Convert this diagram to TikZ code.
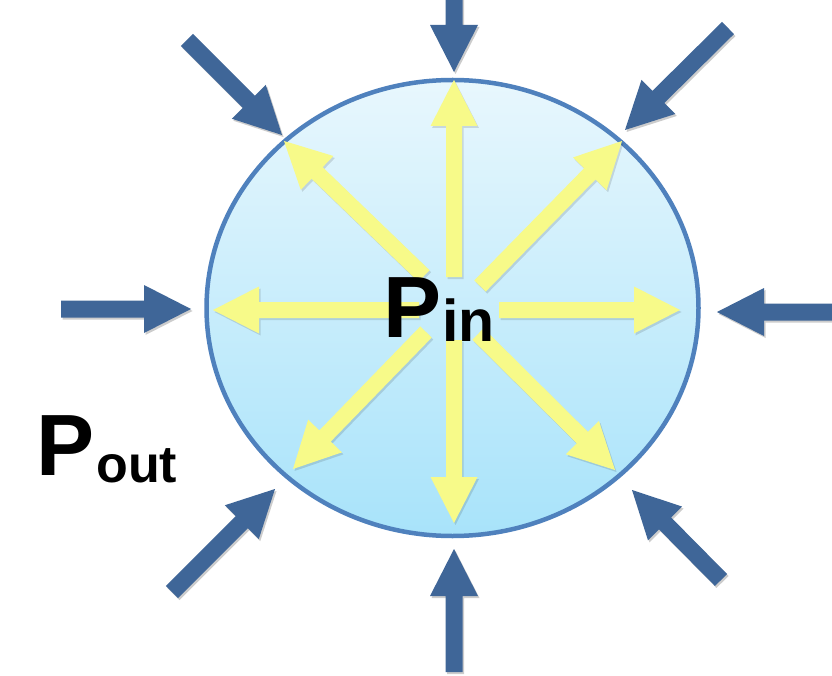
\documentclass[tikz,border=0pt]{standalone}
\usepackage{fontspec}
\setmainfont{Liberation Sans}
\usetikzlibrary{calc,shapes.geometric}
\definecolor{bluearr}{RGB}{63,102,152}
\definecolor{yellarr}{RGB}{247,250,137}
\definecolor{rim}{RGB}{79,129,189}
\definecolor{fillTop}{RGB}{232,247,253}
\definecolor{fillBot}{RGB}{168,227,250}
% #1 tail, #2 tip, #3 shaft half width, #4 head half width, #5 head length, #6 style
\newcommand\FatArrow[6]{%
  \coordinate (#1b) at ($(#2)!#5!(#1)$);
  \fill[#6] ($(#1)!#3!90:(#2)$) -- ($(#1b)!#3!90:(#2)$) -- ($(#1b)!#4!90:(#2)$) -- (#2)
    -- ($(#1b)!#4!-90:(#2)$) -- ($(#1b)!#3!-90:(#2)$) -- ($(#1)!#3!-90:(#2)$) -- cycle;}
\newcommand\BlueArrow[2]{%
  \FatArrow{#1}{#2}{8.5pt}{24pt}{47pt}{arrshadow}%
  \FatArrow{#1}{#2}{8.5pt}{24pt}{47pt}{bluearr}}
\newcommand\YellowArrow[2]{%
  \FatArrow{#1}{#2}{8pt}{23.5pt}{46pt}{arrshadow, opacity=0.12}%
  \FatArrow{#1}{#2}{8pt}{23.5pt}{46pt}{yellarr}}
\tikzset{
  arrshadow/.style={black, opacity=0.2, transform canvas={xshift=1.5pt, yshift=-2pt}},
  bigtext/.style={anchor=base west, inner sep=0pt, font=\bfseries\fontsize{87}{87}\selectfont},
}
\begin{document}
\begin{tikzpicture}[x=1pt, y=-1pt]
\fill[white] (0,0) rectangle (832,676);
\useasboundingbox (0,0) rectangle (832,676);

% cell
\node[ellipse, minimum width=492pt, minimum height=456pt, inner sep=0pt, draw=none] (cell) at (452.5,308) {};
\shade[top color=fillTop, bottom color=fillBot, draw=rim, line width=4.5pt]
  (452.5,308) ellipse [x radius=246, y radius=228];

% outside (blue) arrows
\coordinate (bt1) at (454,-2);   \coordinate (bh1) at (454,72);
\coordinate (bt2) at (454,672);  \coordinate (bh2) at (454,549);
\coordinate (bt3) at (61,309);   \coordinate (bh3) at (191,309);
\coordinate (bt4) at (834,312);  \coordinate (bh4) at (717,312);
\coordinate (bt5) at (187,40);   \coordinate (bh5) at (282,135);
\coordinate (bt6) at (728,28);   \coordinate (bh6) at (625,130);
\coordinate (bt7) at (172,592);  \coordinate (bh7) at (275,489);
\coordinate (bt8) at (721,580);  \coordinate (bh8) at (632,490);
\foreach \i in {1,...,8} {\BlueArrow{bt\i}{bh\i}}

% inside (yellow) arrows
\coordinate (yt1) at (454,277);  \coordinate (yh1) at (454,80);
\coordinate (yt2) at (454,340);  \coordinate (yh2) at (454,523);
\coordinate (yt3) at (419,310);  \coordinate (yh3) at (213,310);
\coordinate (yt4) at (499,310);  \coordinate (yh4) at (680,310);
\coordinate (yt5) at (424,276);  \coordinate (yh5) at (284,141);
\coordinate (yt6) at (480,286);  \coordinate (yh6) at (622,141);
\coordinate (yt7) at (426,332);  \coordinate (yh7) at (293,469);
\coordinate (yt8) at (478,334);  \coordinate (yh8) at (615,470);
\foreach \i in {1,...,8} {\YellowArrow{yt\i}{yh\i}}

% labels
\node[bigtext] (pin) at (383,337) {P\kern1pt\raisebox{-4pt}{\fontsize{59}{59}\selectfont in}};
\node[bigtext] (pout) at (36,475) {P\kern2pt\raisebox{-7pt}{\fontsize{52}{52}\selectfont out}};
\end{tikzpicture}
\end{document}
